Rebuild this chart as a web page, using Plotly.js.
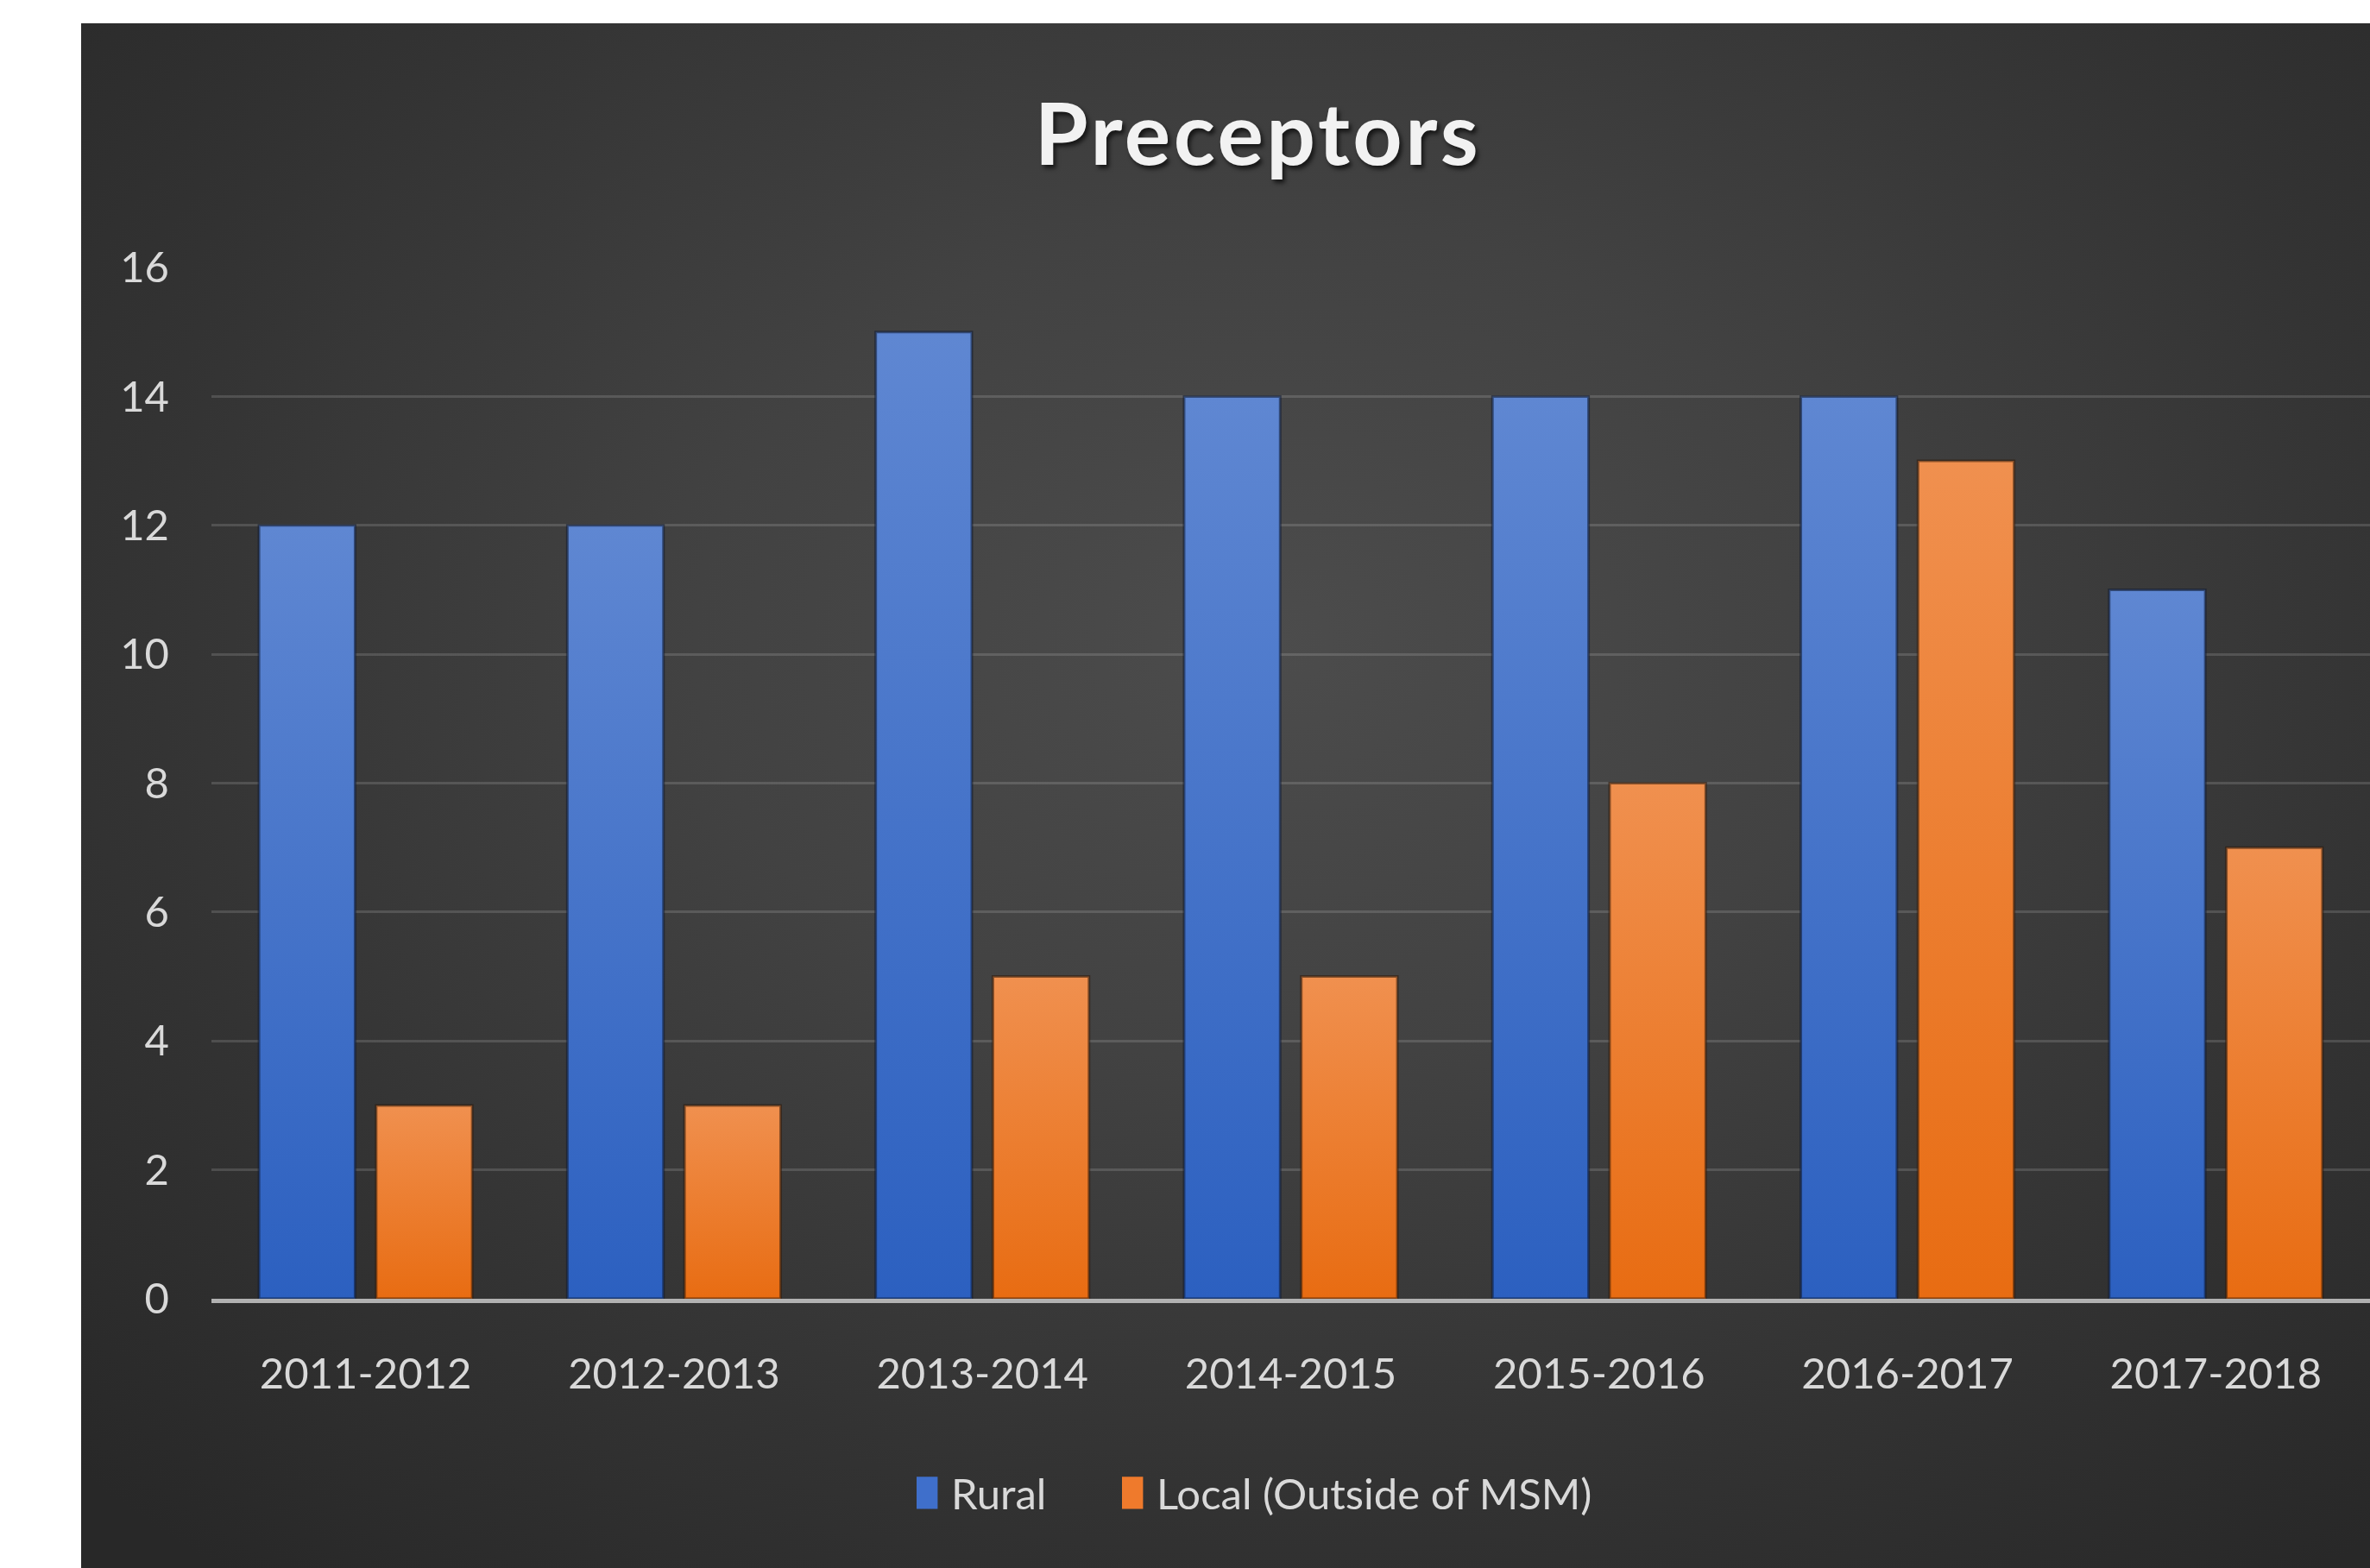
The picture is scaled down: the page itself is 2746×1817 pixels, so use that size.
<!DOCTYPE html>
<html>
<head>
<meta charset="utf-8">
<script src="https://cdn.plot.ly/plotly-3.0.1.min.js"></script>
<style>
  html, body { margin: 0; padding: 0; background: #ffffff; overflow: hidden; }
  #bg {
    position: absolute; left: 94px; top: 27px; width: 2652px; height: 1790px;
    background: radial-gradient(ellipse 72% 78% at 52% 40%, #4c4c4c 0%, #424242 35%, #333333 70%, #282828 100%);
  }
  #chart { position: absolute; left: 0; top: 0; width: 2746px; height: 1817px; }
  .gtitle { letter-spacing: 3.5px; }
</style>
</head>
<body>
<div id="bg"></div>
<svg width="0" height="0" style="position:absolute">
  <defs>
    <linearGradient id="gradRural" x1="0" y1="0" x2="0" y2="1">
      <stop offset="0" stop-color="#5f87d2"/>
      <stop offset="1" stop-color="#2c60c0"/>
    </linearGradient>
    <linearGradient id="gradLocal" x1="0" y1="0" x2="0" y2="1">
      <stop offset="0" stop-color="#f0904f"/>
      <stop offset="1" stop-color="#e86c12"/>
    </linearGradient>
  </defs>
</svg>
<div id="chart"></div>
<script>
const chartTitle = 'Preceptors';
const categories = ['2011-2012', '2012-2013', '2013-2014', '2014-2015', '2015-2016', '2016-2017', '2017-2018'];
const seriesNames = ['Rural', 'Local (Outside of MSM)'];
const ruralValues = [12, 12, 15, 14, 14, 14, 11];
const localValues = [3, 3, 5, 5, 8, 13, 7];
const yTickValues = [0, 2, 4, 6, 8, 10, 12, 14, 16];
const yTickLabels = ['0', '2', '4', '6', '8', '10', '12', '14', '16'];

const textColor = '#d9d9d9';
const fontFamily = 'Lato, "Open Sans", sans-serif';

const traces = [
  {
    type: 'bar', name: seriesNames[0], x: categories, y: ruralValues, legend: 'legend',
    marker: { color: '#3f6fcb', line: { color: 'rgba(15,25,50,0.55)', width: 3 } },
    hoverinfo: 'x+y+name'
  },
  {
    type: 'bar', name: seriesNames[1], x: categories, y: localValues, legend: 'legend2',
    marker: { color: '#ef7a2c', line: { color: 'rgba(50,25,10,0.55)', width: 3 } },
    hoverinfo: 'x+y+name'
  }
];

const legendBase = {
  orientation: 'h', xref: 'container', yref: 'container',
  xanchor: 'left', y: 1 - 1730 / 1817, yanchor: 'middle',
  bgcolor: 'rgba(0,0,0,0)', borderwidth: 0,
  font: { family: fontFamily, size: 49, color: textColor }
};

const layout = {
  width: 2746, height: 1817,
  paper_bgcolor: 'rgba(0,0,0,0)', plot_bgcolor: 'rgba(0,0,0,0)',
  margin: { l: 245, r: 0, t: 310, b: 312, pad: 0 },
  barmode: 'group', bargap: 0.24, bargroupgap: 0.18,
  title: {
    text: chartTitle,
    x: 0.5308, xref: 'container', xanchor: 'center',
    y: 1 - 156 / 1817, yref: 'container', yanchor: 'middle',
    font: { family: fontFamily, size: 100, weight: 700, color: '#f2f2f2',
            shadow: '3px 4px 5px rgba(0,0,0,0.65)' }
  },
  xaxis: {
    type: 'category', range: [-0.5, 6.5], fixedrange: true,
    showgrid: false, zeroline: false,
    showline: true, linecolor: 'rgba(200,200,200,0.85)', linewidth: 5, layer: 'above traces',
    ticks: '', ticklabelstandoff: 40,
    tickfont: { family: fontFamily, size: 49, color: textColor }
  },
  yaxis: {
    range: [0, 16], fixedrange: true,
    tickmode: 'array', tickvals: yTickValues, ticktext: yTickLabels,
    showgrid: true, gridcolor: 'rgba(255,255,255,0.14)', gridwidth: 3,
    zeroline: false, showline: false, ticks: '', ticklabelstandoff: 48,
    tickfont: { family: fontFamily, size: 49, color: textColor }
  },
  showlegend: true,
  legend: Object.assign({}, legendBase, { x: 1062 / 2746 }),
  legend2: Object.assign({}, legendBase, { x: 1300 / 2746 })
};

Plotly.newPlot('chart', traces, layout, { staticPlot: true, displayModeBar: false }).then(function (gd) {
  const gradIds = ['gradRural', 'gradLocal'];
  gd.querySelectorAll('.barlayer .trace.bars').forEach(function (tr, i) {
    tr.querySelectorAll('path').forEach(function (p) {
      p.style.fill = 'url(#' + gradIds[i % 2] + ')';
    });
  });
  gd.querySelectorAll('.legendpoints path').forEach(function (p) {
    p.setAttribute('transform', 'translate(10,0) scale(2.4,3.1)');
    p.style.strokeWidth = '0';
  });
});
</script>
</body>
</html>
